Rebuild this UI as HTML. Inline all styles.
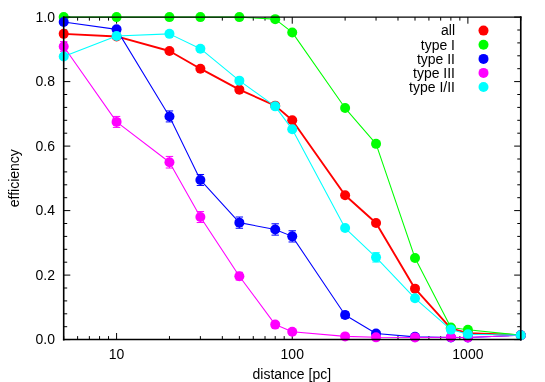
<!DOCTYPE html>
<html><head><meta charset="utf-8"><title>efficiency vs distance</title>
<style>
html,body{margin:0;padding:0;background:#fff;}
body{width:545px;height:382px;overflow:hidden;}
svg text{font-family:"Liberation Sans",sans-serif;font-size:14px;fill:#000;}
</style></head><body>
<svg width="545" height="382" viewBox="0 0 545 382" style="display:block">
<rect width="545" height="382" fill="#fff"/>
<path d="M63.70 339.60h6.6M520.77 339.60h-6.6M63.70 326.70h3.5M520.77 326.70h-3.5M63.70 313.80h3.5M520.77 313.80h-3.5M63.70 300.90h3.5M520.77 300.90h-3.5M63.70 288.00h3.5M520.77 288.00h-3.5M63.70 275.10h6.6M520.77 275.10h-6.6M63.70 262.20h3.5M520.77 262.20h-3.5M63.70 249.30h3.5M520.77 249.30h-3.5M63.70 236.40h3.5M520.77 236.40h-3.5M63.70 223.50h3.5M520.77 223.50h-3.5M63.70 210.60h6.6M520.77 210.60h-6.6M63.70 197.70h3.5M520.77 197.70h-3.5M63.70 184.80h3.5M520.77 184.80h-3.5M63.70 171.90h3.5M520.77 171.90h-3.5M63.70 159.00h3.5M520.77 159.00h-3.5M63.70 146.10h6.6M520.77 146.10h-6.6M63.70 133.20h3.5M520.77 133.20h-3.5M63.70 120.30h3.5M520.77 120.30h-3.5M63.70 107.40h3.5M520.77 107.40h-3.5M63.70 94.50h3.5M520.77 94.50h-3.5M63.70 81.60h6.6M520.77 81.60h-6.6M63.70 68.70h3.5M520.77 68.70h-3.5M63.70 55.80h3.5M520.77 55.80h-3.5M63.70 42.90h3.5M520.77 42.90h-3.5M63.70 30.00h3.5M520.77 30.00h-3.5M63.70 17.10h6.6M520.77 17.10h-6.6M63.70 339.60v-3.5M63.70 17.10v3.5M77.61 339.60v-3.5M77.61 17.10v3.5M89.37 339.60v-3.5M89.37 17.10v3.5M99.56 339.60v-3.5M99.56 17.10v3.5M108.54 339.60v-3.5M108.54 17.10v3.5M116.58 339.60v-6.6M116.58 17.10v6.6M169.46 339.60v-3.5M169.46 17.10v3.5M200.39 339.60v-3.5M200.39 17.10v3.5M222.33 339.60v-3.5M222.33 17.10v3.5M239.36 339.60v-3.5M239.36 17.10v3.5M253.27 339.60v-3.5M253.27 17.10v3.5M265.03 339.60v-3.5M265.03 17.10v3.5M275.21 339.60v-3.5M275.21 17.10v3.5M284.20 339.60v-3.5M284.20 17.10v3.5M292.24 339.60v-6.6M292.24 17.10v6.6M345.11 339.60v-3.5M345.11 17.10v3.5M376.04 339.60v-3.5M376.04 17.10v3.5M397.99 339.60v-3.5M397.99 17.10v3.5M415.01 339.60v-3.5M415.01 17.10v3.5M428.92 339.60v-3.5M428.92 17.10v3.5M440.68 339.60v-3.5M440.68 17.10v3.5M450.87 339.60v-3.5M450.87 17.10v3.5M459.85 339.60v-3.5M459.85 17.10v3.5M467.89 339.60v-6.6M467.89 17.10v6.6M520.77 339.60v-3.5M520.77 17.10v3.5" stroke="#000" stroke-width="1.0" fill="none"/>
<g stroke="#ff0000" fill="#ff0000">
<polyline points="63.70,33.87 116.58,36.45 169.46,50.96 200.39,68.70 239.36,89.66 275.21,105.63 292.24,120.30 345.11,195.18 376.04,223.02 415.01,288.65 450.87,328.31 467.89,333.15 520.77,335.21" fill="none" stroke-width="1.9" stroke-linejoin="round"/>
<circle cx="63.70" cy="33.87" r="5.0" stroke="none"/>
<circle cx="116.58" cy="36.45" r="5.0" stroke="none"/>
<circle cx="169.46" cy="50.96" r="5.0" stroke="none"/>
<circle cx="200.39" cy="68.70" r="5.0" stroke="none"/>
<circle cx="239.36" cy="89.66" r="5.0" stroke="none"/>
<circle cx="275.21" cy="105.63" r="5.0" stroke="none"/>
<circle cx="292.24" cy="120.30" r="5.0" stroke="none"/>
<circle cx="345.11" cy="195.18" r="5.0" stroke="none"/>
<circle cx="376.04" cy="223.02" r="5.0" stroke="none"/>
<circle cx="415.01" cy="288.65" r="5.0" stroke="none"/>
<circle cx="450.87" cy="328.31" r="5.0" stroke="none"/>
<circle cx="467.89" cy="333.15" r="5.0" stroke="none"/>
<circle cx="520.77" cy="335.21" r="5.0" stroke="none"/>
</g>
<g stroke="#00ff00" fill="#00ff00">
<polyline points="63.70,17.10 116.58,17.10 169.46,17.10 200.39,17.10 239.36,17.10 275.21,19.13 292.24,32.42 345.11,108.05 376.04,143.84 415.01,258.01 450.87,327.51 467.89,329.76 520.77,335.21" fill="none" stroke-width="1.06" stroke-linejoin="round"/>
<circle cx="63.70" cy="17.10" r="5.0" stroke="none"/>
<circle cx="116.58" cy="17.10" r="5.0" stroke="none"/>
<circle cx="169.46" cy="17.10" r="5.0" stroke="none"/>
<circle cx="200.39" cy="17.10" r="5.0" stroke="none"/>
<circle cx="239.36" cy="17.10" r="5.0" stroke="none"/>
<circle cx="275.21" cy="19.13" r="5.0" stroke="none"/>
<circle cx="292.24" cy="32.42" r="5.0" stroke="none"/>
<circle cx="345.11" cy="108.05" r="5.0" stroke="none"/>
<circle cx="376.04" cy="143.84" r="5.0" stroke="none"/>
<circle cx="415.01" cy="258.01" r="5.0" stroke="none"/>
<circle cx="450.87" cy="327.51" r="5.0" stroke="none"/>
<circle cx="467.89" cy="329.76" r="5.0" stroke="none"/>
<circle cx="520.77" cy="335.21" r="5.0" stroke="none"/>
</g>
<g stroke="#0000ff" fill="#0000ff">
<polyline points="63.70,21.94 116.58,29.36 169.46,116.43 200.39,179.96 239.36,222.63 275.21,229.47 292.24,236.37 345.11,314.99 376.04,333.47 415.01,336.86 450.87,337.41 467.89,337.47 520.77,335.21" fill="none" stroke-width="1.06" stroke-linejoin="round"/>
<path d="M63.70 20.33V23.55M60.00 20.33h7.4M60.00 23.55h7.4" stroke-width="1" fill="none"/>
<path d="M116.58 26.78V31.94M112.88 26.78h7.4M112.88 31.94h7.4" stroke-width="1" fill="none"/>
<path d="M169.46 110.95V121.91M165.76 110.95h7.4M165.76 121.91h7.4" stroke-width="1" fill="none"/>
<path d="M200.39 174.48V185.45M196.69 174.48h7.4M196.69 185.45h7.4" stroke-width="1" fill="none"/>
<path d="M239.36 217.02V228.24M235.66 217.02h7.4M235.66 228.24h7.4" stroke-width="1" fill="none"/>
<path d="M275.21 223.79V235.14M271.51 223.79h7.4M271.51 235.14h7.4" stroke-width="1" fill="none"/>
<path d="M292.24 230.76V241.98M288.54 230.76h7.4M288.54 241.98h7.4" stroke-width="1" fill="none"/>
<path d="M345.11 311.77V318.22M341.41 311.77h7.4M341.41 318.22h7.4" stroke-width="1" fill="none"/>
<path d="M376.04 331.86V335.09M372.34 331.86h7.4M372.34 335.09h7.4" stroke-width="1" fill="none"/>
<circle cx="63.70" cy="21.94" r="5.0" stroke="none"/>
<circle cx="116.58" cy="29.36" r="5.0" stroke="none"/>
<circle cx="169.46" cy="116.43" r="5.0" stroke="none"/>
<circle cx="200.39" cy="179.96" r="5.0" stroke="none"/>
<circle cx="239.36" cy="222.63" r="5.0" stroke="none"/>
<circle cx="275.21" cy="229.47" r="5.0" stroke="none"/>
<circle cx="292.24" cy="236.37" r="5.0" stroke="none"/>
<circle cx="345.11" cy="314.99" r="5.0" stroke="none"/>
<circle cx="376.04" cy="333.47" r="5.0" stroke="none"/>
<circle cx="415.01" cy="336.86" r="5.0" stroke="none"/>
<circle cx="450.87" cy="337.41" r="5.0" stroke="none"/>
<circle cx="467.89" cy="337.47" r="5.0" stroke="none"/>
<circle cx="520.77" cy="335.21" r="5.0" stroke="none"/>
</g>
<g stroke="#ff00ff" fill="#ff00ff">
<polyline points="63.70,46.45 116.58,121.91 169.46,162.22 200.39,217.05 239.36,276.20 275.21,324.60 292.24,331.70 345.11,336.38 376.04,337.34 415.01,337.41 450.87,337.28 467.89,337.47 520.77,335.21" fill="none" stroke-width="1.06" stroke-linejoin="round"/>
<path d="M63.70 41.61V51.29M60.00 41.61h7.4M60.00 51.29h7.4" stroke-width="1" fill="none"/>
<path d="M116.58 116.43V127.40M112.88 116.43h7.4M112.88 127.40h7.4" stroke-width="1" fill="none"/>
<path d="M169.46 156.42V168.03M165.76 156.42h7.4M165.76 168.03h7.4" stroke-width="1" fill="none"/>
<path d="M200.39 211.57V222.53M196.69 211.57h7.4M196.69 222.53h7.4" stroke-width="1" fill="none"/>
<path d="M239.36 272.33V280.07M235.66 272.33h7.4M235.66 280.07h7.4" stroke-width="1" fill="none"/>
<path d="M275.21 322.02V327.18M271.51 322.02h7.4M271.51 327.18h7.4" stroke-width="1" fill="none"/>
<path d="M292.24 329.76V333.63M288.54 329.76h7.4M288.54 333.63h7.4" stroke-width="1" fill="none"/>
<circle cx="63.70" cy="46.45" r="5.0" stroke="none"/>
<circle cx="116.58" cy="121.91" r="5.0" stroke="none"/>
<circle cx="169.46" cy="162.22" r="5.0" stroke="none"/>
<circle cx="200.39" cy="217.05" r="5.0" stroke="none"/>
<circle cx="239.36" cy="276.20" r="5.0" stroke="none"/>
<circle cx="275.21" cy="324.60" r="5.0" stroke="none"/>
<circle cx="292.24" cy="331.70" r="5.0" stroke="none"/>
<circle cx="345.11" cy="336.38" r="5.0" stroke="none"/>
<circle cx="376.04" cy="337.34" r="5.0" stroke="none"/>
<circle cx="415.01" cy="337.41" r="5.0" stroke="none"/>
<circle cx="450.87" cy="337.28" r="5.0" stroke="none"/>
<circle cx="467.89" cy="337.47" r="5.0" stroke="none"/>
<circle cx="520.77" cy="335.21" r="5.0" stroke="none"/>
</g>
<g stroke="#00ffff" fill="#00ffff">
<polyline points="63.70,56.45 116.58,35.93 169.46,33.87 200.39,48.71 239.36,80.63 275.21,106.34 292.24,129.33 345.11,228.02 376.04,257.36 415.01,298.32 450.87,329.60 467.89,334.25 520.77,335.21" fill="none" stroke-width="1.06" stroke-linejoin="round"/>
<path d="M376.04 252.69V262.04M372.34 252.69h7.4M372.34 262.04h7.4" stroke-width="1" fill="none"/>
<circle cx="63.70" cy="56.45" r="5.0" stroke="none"/>
<circle cx="116.58" cy="35.93" r="5.0" stroke="none"/>
<circle cx="169.46" cy="33.87" r="5.0" stroke="none"/>
<circle cx="200.39" cy="48.71" r="5.0" stroke="none"/>
<circle cx="239.36" cy="80.63" r="5.0" stroke="none"/>
<circle cx="275.21" cy="106.34" r="5.0" stroke="none"/>
<circle cx="292.24" cy="129.33" r="5.0" stroke="none"/>
<circle cx="345.11" cy="228.02" r="5.0" stroke="none"/>
<circle cx="376.04" cy="257.36" r="5.0" stroke="none"/>
<circle cx="415.01" cy="298.32" r="5.0" stroke="none"/>
<circle cx="450.87" cy="329.60" r="5.0" stroke="none"/>
<circle cx="467.89" cy="334.25" r="5.0" stroke="none"/>
<circle cx="520.77" cy="335.21" r="5.0" stroke="none"/>
</g>
<circle cx="483.5" cy="30.6" r="5.0" fill="#ff0000"/>
<circle cx="483.5" cy="44.8" r="5.0" fill="#00ff00"/>
<circle cx="483.5" cy="58.9" r="5.0" fill="#0000ff"/>
<circle cx="483.5" cy="72.9" r="5.0" fill="#ff00ff"/>
<circle cx="483.5" cy="87.0" r="5.0" fill="#00ffff"/>
<g stroke="#000" fill="none" stroke-linecap="square">
<path d="M63.70 17.10H520.77" stroke-width="1.27"/>
<path d="M63.70 339.60H520.77" stroke-width="1.5"/>
<path d="M63.70 17.10V339.60" stroke-width="1.6"/>
<path d="M520.77 17.10V339.60" stroke-width="1.65"/>
</g>
<g style="filter:grayscale(1)"><text transform="translate(455.00,35.30) scale(1,1.035)" text-anchor="end">all</text>
<text transform="translate(455.00,49.50) scale(1,1.035)" text-anchor="end">type I</text>
<text transform="translate(455.00,63.60) scale(1,1.035)" text-anchor="end">type II</text>
<text transform="translate(455.00,77.60) scale(1,1.035)" text-anchor="end">type III</text>
<text transform="translate(455.00,91.70) scale(1,1.035)" text-anchor="end">type I/II</text>
<text transform="translate(54.95,344.45) scale(1,1.035)" text-anchor="end">0.0</text>
<text transform="translate(54.95,279.95) scale(1,1.035)" text-anchor="end">0.2</text>
<text transform="translate(54.95,215.45) scale(1,1.035)" text-anchor="end">0.4</text>
<text transform="translate(54.95,150.95) scale(1,1.035)" text-anchor="end">0.6</text>
<text transform="translate(54.95,86.45) scale(1,1.035)" text-anchor="end">0.8</text>
<text transform="translate(54.95,21.95) scale(1,1.035)" text-anchor="end">1.0</text>
<text transform="translate(116.58,358.70) scale(1,1.035)" text-anchor="middle">10</text>
<text transform="translate(292.24,358.70) scale(1,1.035)" text-anchor="middle">100</text>
<text transform="translate(467.89,358.70) scale(1,1.035)" text-anchor="middle">1000</text>
<text transform="translate(291.80,379.30) scale(1,1.035)" text-anchor="middle">distance [pc]</text>
<text transform="translate(19.2,178.2) rotate(-90) scale(1,1.035)" text-anchor="middle">efficiency</text></g>
</svg>
</body></html>
